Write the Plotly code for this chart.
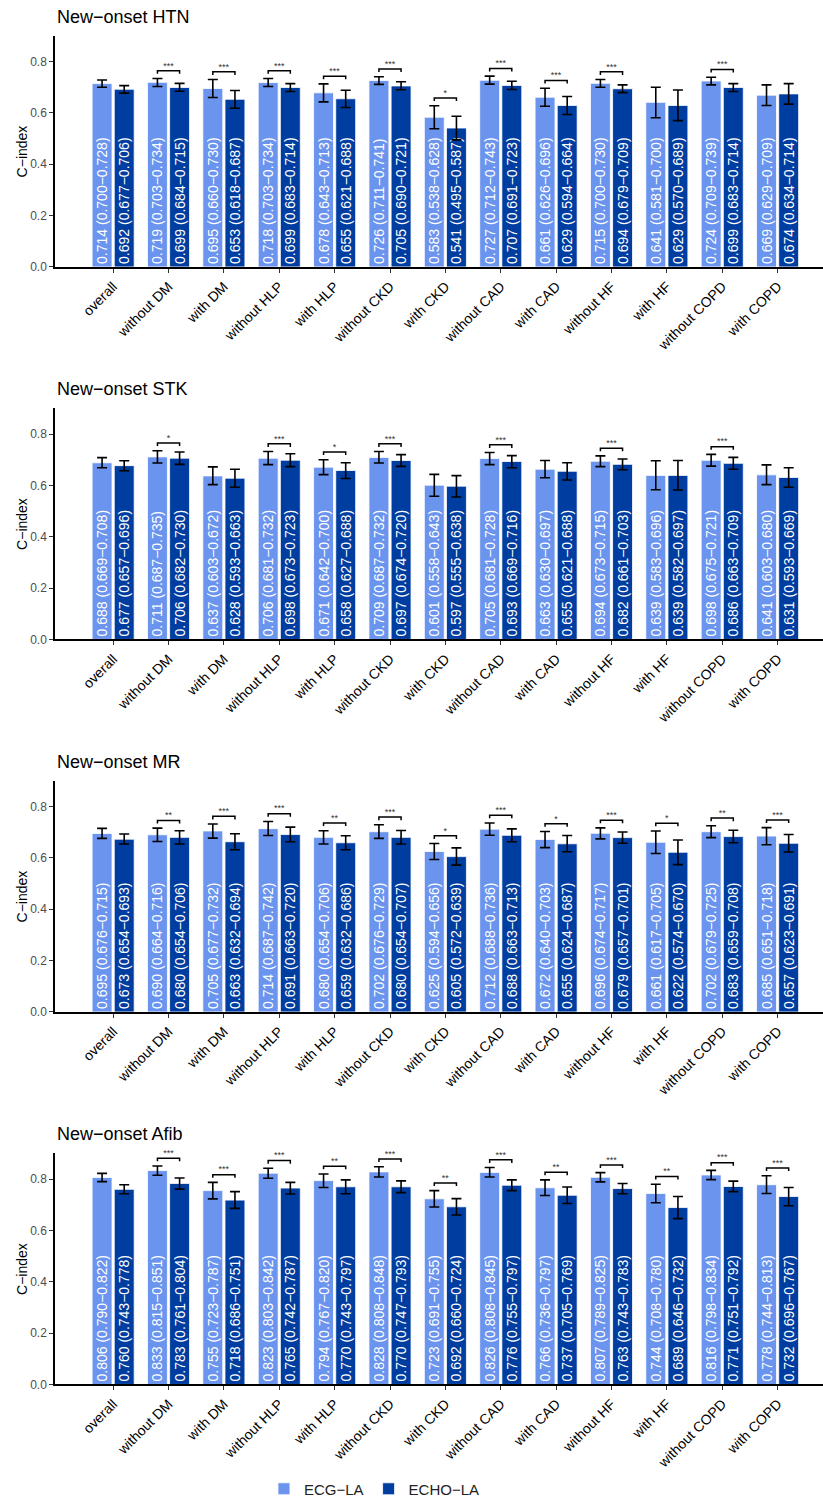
import plotly.graph_objects as go

# Subgroups shown on every panel
categories = ["overall", "without DM", "with DM", "without HLP", "with HLP",
              "without CKD", "with CKD", "without CAD", "with CAD",
              "without HF", "with HF", "without COPD", "with COPD"]

outcomes = ["New−onset HTN", "New−onset STK", "New−onset MR", "New−onset Afib"]

# ---- New-onset HTN ----
htn_ecg = [0.714, 0.719, 0.695, 0.718, 0.678, 0.726, 0.583, 0.727, 0.661, 0.715, 0.641, 0.724, 0.669]
htn_ecg_lo = [0.700, 0.703, 0.660, 0.703, 0.643, 0.711, 0.538, 0.712, 0.626, 0.700, 0.581, 0.709, 0.629]
htn_ecg_hi = [0.728, 0.734, 0.730, 0.734, 0.713, 0.741, 0.628, 0.743, 0.696, 0.730, 0.700, 0.739, 0.709]
htn_echo = [0.692, 0.699, 0.653, 0.699, 0.655, 0.705, 0.541, 0.707, 0.629, 0.694, 0.629, 0.699, 0.674]
htn_echo_lo = [0.677, 0.684, 0.618, 0.683, 0.621, 0.690, 0.495, 0.691, 0.594, 0.679, 0.570, 0.683, 0.634]
htn_echo_hi = [0.706, 0.715, 0.687, 0.714, 0.688, 0.721, 0.587, 0.723, 0.664, 0.709, 0.689, 0.714, 0.714]
htn_sig = ["", "***", "***", "***", "***", "***", "*", "***", "***", "***", "", "***", ""]

# ---- New-onset STK ----
stk_ecg = [0.688, 0.711, 0.637, 0.706, 0.671, 0.709, 0.601, 0.705, 0.663, 0.694, 0.639, 0.698, 0.641]
stk_ecg_lo = [0.669, 0.687, 0.603, 0.681, 0.642, 0.687, 0.558, 0.681, 0.630, 0.673, 0.583, 0.675, 0.603]
stk_ecg_hi = [0.708, 0.735, 0.672, 0.732, 0.700, 0.732, 0.643, 0.728, 0.697, 0.715, 0.696, 0.721, 0.680]
stk_echo = [0.677, 0.706, 0.628, 0.698, 0.658, 0.697, 0.597, 0.693, 0.655, 0.682, 0.639, 0.686, 0.631]
stk_echo_lo = [0.657, 0.682, 0.593, 0.673, 0.627, 0.674, 0.555, 0.669, 0.621, 0.661, 0.582, 0.663, 0.593]
stk_echo_hi = [0.696, 0.730, 0.663, 0.723, 0.688, 0.720, 0.638, 0.716, 0.688, 0.703, 0.697, 0.709, 0.669]
stk_sig = ["", "*", "", "***", "*", "***", "", "***", "", "***", "", "***", ""]

# ---- New-onset MR ----
mr_ecg = [0.695, 0.690, 0.705, 0.714, 0.680, 0.702, 0.625, 0.712, 0.672, 0.696, 0.661, 0.702, 0.685]
mr_ecg_lo = [0.676, 0.664, 0.677, 0.687, 0.654, 0.676, 0.594, 0.688, 0.640, 0.674, 0.617, 0.679, 0.651]
mr_ecg_hi = [0.715, 0.716, 0.732, 0.742, 0.706, 0.729, 0.656, 0.736, 0.703, 0.717, 0.705, 0.725, 0.718]
mr_echo = [0.673, 0.680, 0.663, 0.691, 0.659, 0.680, 0.605, 0.688, 0.655, 0.679, 0.622, 0.683, 0.657]
mr_echo_lo = [0.654, 0.654, 0.632, 0.663, 0.632, 0.654, 0.572, 0.663, 0.624, 0.657, 0.574, 0.659, 0.623]
mr_echo_hi = [0.693, 0.706, 0.694, 0.720, 0.686, 0.707, 0.639, 0.713, 0.687, 0.701, 0.670, 0.708, 0.691]
mr_sig = ["", "**", "***", "***", "**", "***", "*", "***", "*", "***", "*", "**", "***"]

# ---- New-onset Afib ----
afib_ecg = [0.806, 0.833, 0.755, 0.823, 0.794, 0.828, 0.723, 0.826, 0.766, 0.807, 0.744, 0.816, 0.778]
afib_ecg_lo = [0.790, 0.815, 0.723, 0.803, 0.767, 0.808, 0.691, 0.808, 0.736, 0.789, 0.708, 0.798, 0.744]
afib_ecg_hi = [0.822, 0.851, 0.787, 0.842, 0.820, 0.848, 0.755, 0.845, 0.797, 0.825, 0.780, 0.834, 0.813]
afib_echo = [0.760, 0.783, 0.718, 0.765, 0.770, 0.770, 0.692, 0.776, 0.737, 0.763, 0.689, 0.771, 0.732]
afib_echo_lo = [0.743, 0.761, 0.686, 0.742, 0.743, 0.747, 0.660, 0.755, 0.705, 0.743, 0.646, 0.751, 0.696]
afib_echo_hi = [0.778, 0.804, 0.751, 0.787, 0.797, 0.793, 0.724, 0.797, 0.769, 0.783, 0.732, 0.792, 0.767]
afib_sig = ["", "***", "***", "***", "**", "***", "**", "***", "**", "***", "**", "***", "***"]

panels = [
    (htn_ecg, htn_ecg_lo, htn_ecg_hi, htn_echo, htn_echo_lo, htn_echo_hi, htn_sig),
    (stk_ecg, stk_ecg_lo, stk_ecg_hi, stk_echo, stk_echo_lo, stk_echo_hi, stk_sig),
    (mr_ecg, mr_ecg_lo, mr_ecg_hi, mr_echo, mr_echo_lo, mr_echo_hi, mr_sig),
    (afib_ecg, afib_ecg_lo, afib_ecg_hi, afib_echo, afib_echo_lo, afib_echo_hi, afib_sig),
]

ECG_COLOR = "#6A94EE"
ECHO_COLOR = "#003DA0"
FONT = "Liberation Sans, Arial, sans-serif"

W, H = 823, 1506
# panel vertical extents in pixels (top, bottom)
panel_px = [(36, 268), (410, 642), (784, 1016), (1158, 1390)]
x_left = 55 / W

BAR_W = 0.36
OFF = 0.2

fig = go.Figure()
xpos = list(range(len(categories)))


def fmt(v, lo, hi):
    return f"{v:.3f} ({lo:.3f}−{hi:.3f})"


for k, (e, elo, ehi, c, clo, chi, sig) in enumerate(panels):
    sfx = "" if k == 0 else str(k + 1)
    xa, ya = "x" + sfx, "y" + sfx
    for name, vals, lo, hi, color, shift in [
        ("ECG−LA", e, elo, ehi, ECG_COLOR, -OFF),
        ("ECHO−LA", c, clo, chi, ECHO_COLOR, OFF),
    ]:
        fig.add_trace(go.Bar(
            x=[i + shift for i in xpos], y=vals, width=BAR_W,
            name=name, legendgroup=name, showlegend=(k == 0),
            marker=dict(color=color, line=dict(color="white", width=0.8)),
            text=[fmt(v, a, b) for v, a, b in zip(vals, lo, hi)],
            textposition="inside", insidetextanchor="start", textangle=-90,
            textfont=dict(color="white", size=14, family=FONT),
            error_y=dict(type="data", symmetric=False,
                         array=[b - v for v, b in zip(vals, hi)],
                         arrayminus=[v - a for v, a in zip(vals, lo)],
                         color="black", thickness=1.6, width=5),
            xaxis=xa, yaxis=ya, hoverinfo="skip",
        ))

    # significance brackets between paired bars
    bx, by, sx, sy, st = [], [], [], [], []
    for i, s in enumerate(sig):
        if not s:
            continue
        b = max(ehi[i], chi[i]) + 0.03
        bx += [i - OFF, i - OFF, i + OFF, i + OFF, None]
        by += [b - 0.012, b, b, b - 0.012, None]
        sx.append(i)
        sy.append(b)
        st.append(s)
    fig.add_trace(go.Scatter(x=bx, y=by, mode="lines",
                             line=dict(color="black", width=1.5),
                             showlegend=False, hoverinfo="skip", cliponaxis=False,
                             xaxis=xa, yaxis=ya))
    fig.add_trace(go.Scatter(x=sx, y=sy, mode="text", text=st,
                             textposition="top center", cliponaxis=False,
                             textfont=dict(size=9, color="#333333", family=FONT),
                             showlegend=False, hoverinfo="skip",
                             xaxis=xa, yaxis=ya))

    top, bot = panel_px[k]
    dom = [1 - bot / H, 1 - top / H]
    fig.layout["xaxis" + sfx] = dict(
        domain=[x_left, 1], anchor=ya, range=[-1.05, 12.82],
        tickvals=xpos, ticktext=categories, tickangle=-45,
        tickfont=dict(size=14, color="black", family=FONT),
        showline=True, linecolor="black", linewidth=2,
        ticks="outside", ticklen=4, tickcolor="#333333",
        showgrid=False, zeroline=False, fixedrange=True,
    )
    fig.layout["yaxis" + sfx] = dict(
        domain=dom, anchor=xa, range=[0, 0.9],
        tickvals=[0, 0.2, 0.4, 0.6, 0.8], tickformat=".1f",
        tickfont=dict(size=12, color="#4D4D4D", family=FONT),
        showline=True, linecolor="black", linewidth=1.5,
        ticks="outside", ticklen=4, tickcolor="#333333",
        showgrid=False, zeroline=False, fixedrange=True,
    )
    # panel title and y-axis title
    fig.add_annotation(text=outcomes[k], xref="paper", yref="paper",
                       x=x_left, y=1 - (top - 19) / H, xanchor="left", yanchor="middle",
                       showarrow=False, font=dict(size=18, color="black", family=FONT))
    fig.add_annotation(text="C−index", xref="paper", yref="paper", textangle=-90,
                       x=22 / W, y=(dom[0] + dom[1]) / 2, xanchor="center", yanchor="middle",
                       showarrow=False, font=dict(size=14, color="black", family=FONT))

fig.update_layout(
    width=W, height=H,
    margin=dict(l=0, r=0, t=0, b=0),
    paper_bgcolor="white", plot_bgcolor="white",
    barmode="overlay",
    uniformtext=dict(minsize=14, mode="show"),
    legend=dict(orientation="h", x=0.455, xanchor="center", y=1 - 1495 / H, yanchor="middle",
                font=dict(size=15, color="#222222", family=FONT), itemwidth=30,
                traceorder="normal"),
    font=dict(family=FONT),
)

fig.write_html("out.html")
